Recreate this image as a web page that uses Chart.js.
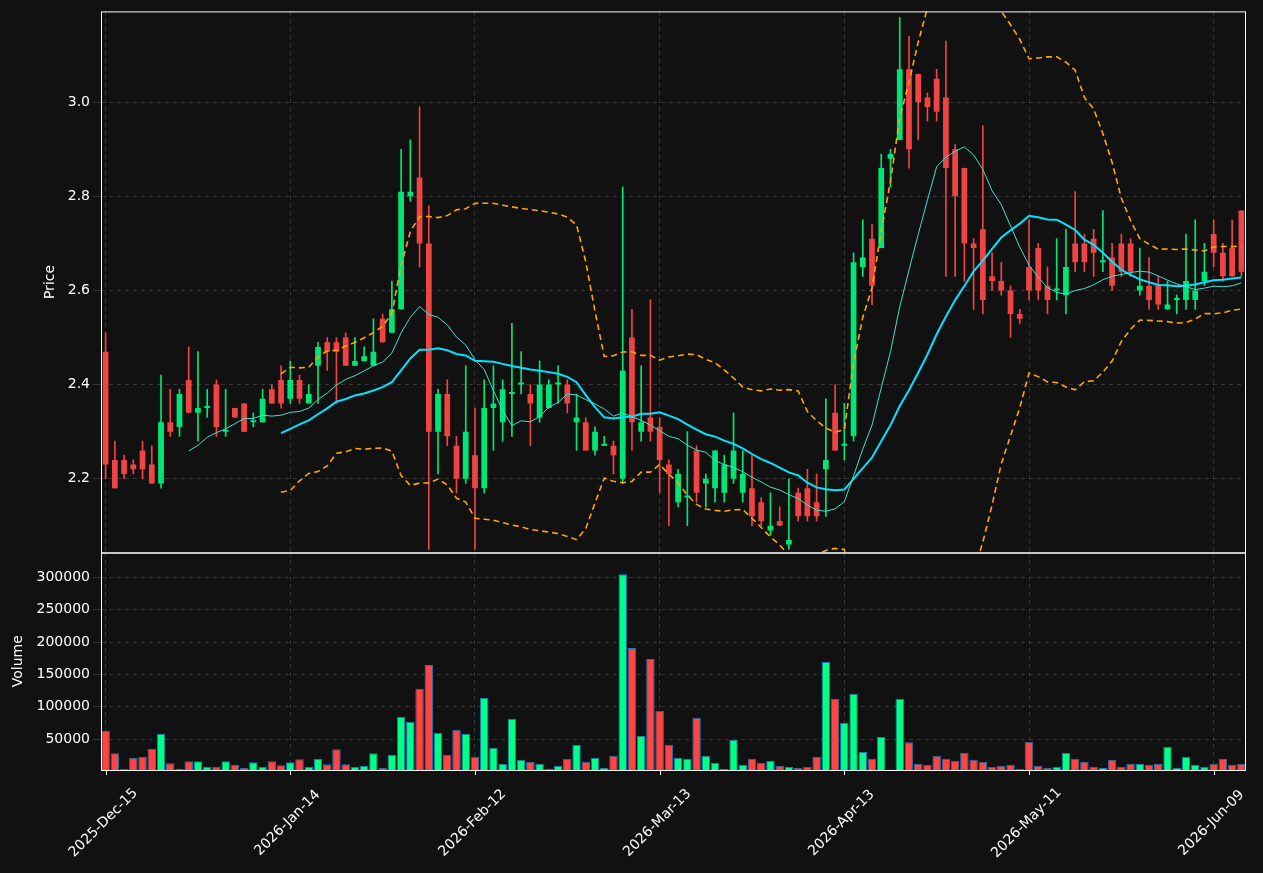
<!DOCTYPE html>
<html><head><meta charset="utf-8">
<script src="https://cdn.jsdelivr.net/npm/chart.js@4/dist/chart.umd.min.js"></script>
<style>
html,body{margin:0;padding:0;background:#111111;width:1263px;height:873px;overflow:hidden}
#p{position:absolute;left:0;top:0}
#v{position:absolute;left:0;top:541px}
</style></head><body>
<canvas id="p" width="1263" height="564"></canvas>
<canvas id="v" width="1263" height="332"></canvas>
<script>
const opens  = [2.47,2.24,2.24,2.23,2.26,2.23,2.19,2.32,2.31,2.41,2.34,2.35,2.40,2.30,2.35,2.36,2.32,2.32,2.39,2.41,
2.37,2.41,2.36,2.44,2.49,2.49,2.50,2.44,2.45,2.44,2.54,2.51,2.56,2.80,2.84,2.70,2.30,2.38,2.27,2.20,
2.25,2.18,2.35,2.32,2.38,2.40,2.38,2.33,2.35,2.40,2.40,2.32,2.32,2.26,2.27,2.27,2.20,2.50,2.30,2.33,
2.31,2.23,2.15,2.16,2.26,2.19,2.18,2.17,2.20,2.17,2.18,2.15,2.09,2.11,2.06,2.17,2.18,2.15,2.22,2.34,
2.27,2.29,2.65,2.71,2.69,2.88,2.92,3.07,3.06,3.01,3.05,3.01,2.90,2.86,2.70,2.73,2.63,2.62,2.60,2.55,
2.65,2.69,2.61,2.60,2.59,2.70,2.70,2.71,2.66,2.67,2.70,2.70,2.60,2.61,2.61,2.56,2.58,2.58,2.58,2.62,
2.72,2.68,2.69,2.77];
const closes = [2.23,2.18,2.21,2.22,2.22,2.19,2.32,2.30,2.38,2.34,2.35,2.35,2.31,2.30,2.33,2.30,2.32,2.37,2.36,2.36,
2.41,2.37,2.38,2.48,2.47,2.47,2.44,2.45,2.46,2.47,2.49,2.56,2.81,2.81,2.70,2.30,2.38,2.29,2.20,2.30,
2.18,2.35,2.36,2.39,2.38,2.40,2.36,2.40,2.40,2.40,2.36,2.33,2.26,2.30,2.27,2.25,2.43,2.32,2.32,2.30,
2.24,2.21,2.21,2.16,2.17,2.20,2.26,2.23,2.26,2.21,2.12,2.11,2.10,2.10,2.07,2.12,2.12,2.12,2.24,2.26,
2.27,2.66,2.67,2.61,2.86,2.89,3.07,2.90,3.00,2.99,2.98,2.86,2.80,2.70,2.69,2.58,2.62,2.60,2.55,2.54,
2.60,2.60,2.58,2.60,2.65,2.66,2.66,2.68,2.66,2.61,2.64,2.64,2.61,2.58,2.57,2.57,2.58,2.62,2.60,2.64,
2.68,2.63,2.63,2.64];
const highs  = [2.51,2.28,2.25,2.24,2.28,2.27,2.42,2.39,2.39,2.48,2.47,2.39,2.41,2.39,2.35,2.36,2.34,2.39,2.40,2.44,
2.45,2.42,2.40,2.49,2.50,2.50,2.51,2.50,2.48,2.54,2.55,2.62,2.90,2.92,2.99,2.78,2.39,2.41,2.29,2.44,
2.35,2.41,2.44,2.41,2.53,2.47,2.40,2.45,2.41,2.44,2.41,2.38,2.33,2.31,2.29,2.28,2.82,2.56,2.44,2.58,
2.33,2.24,2.22,2.30,2.27,2.21,2.26,2.25,2.34,2.26,2.25,2.16,2.17,2.14,2.20,2.18,2.22,2.21,2.37,2.40,
2.36,2.68,2.75,2.74,2.89,2.90,3.18,3.14,3.06,3.02,3.07,3.13,2.91,2.86,2.71,2.95,2.68,2.66,2.61,2.56,
2.75,2.70,2.65,2.71,2.73,2.81,2.72,2.73,2.77,2.70,2.72,2.71,2.69,2.67,2.63,2.62,2.59,2.72,2.75,2.70,
2.75,2.70,2.75,2.77];
const lows   = [2.20,2.18,2.20,2.21,2.20,2.19,2.18,2.29,2.29,2.34,2.28,2.33,2.29,2.29,2.33,2.30,2.31,2.32,2.36,2.35,
2.36,2.36,2.38,2.36,2.43,2.36,2.44,2.44,2.45,2.44,2.49,2.51,2.56,2.79,2.65,2.05,2.21,2.27,2.17,2.19,
2.05,2.17,2.26,2.28,2.29,2.38,2.27,2.32,2.35,2.36,2.34,2.26,2.26,2.25,2.27,2.21,2.19,2.26,2.28,2.28,
2.17,2.10,2.14,2.10,2.15,2.14,2.15,2.15,2.19,2.15,2.10,2.10,2.08,2.10,2.05,2.11,2.11,2.11,2.12,2.26,
2.24,2.28,2.63,2.57,2.83,2.82,2.92,2.86,2.92,2.96,2.96,2.63,2.63,2.62,2.56,2.55,2.60,2.59,2.50,2.53,
2.58,2.58,2.55,2.58,2.55,2.64,2.64,2.63,2.64,2.60,2.63,2.63,2.59,2.56,2.56,2.56,2.55,2.56,2.56,2.61,
2.65,2.62,2.63,2.63];
const volumes = [62800,27900,4200,21200,22700,35100,58200,12500,4200,15600,15600,7300,7300,15600,10300,5700,14000,7300,15600,9600,
14000,18700,7300,19600,10900,34200,10900,7300,8800,27900,5700,25800,84400,76700,127600,164600,59700,25800,64300,58200,
22700,113700,36600,12000,81300,18100,15000,12000,4200,8800,19600,41200,15000,21200,5700,24200,305000,190900,55100,173900,
93700,41200,21200,19600,82900,24200,13500,4200,48900,10300,19600,13500,16500,8800,7300,5700,7300,22700,169300,112200,
75200,119900,30400,19600,53600,3000,112200,44900,12000,10300,24200,19600,16500,28900,18100,15000,7300,8800,10300,4200,
45800,8800,5700,7300,28900,19600,15000,7300,5700,18100,7300,12000,12000,10300,12000,38100,5700,22700,10300,7300,
12000,19600,10300,12000];
const tickIndex = [0,20,40,60,80,100,120];
const tickLabels = ['2025-Dec-15','2026-Jan-14','2026-Feb-12','2026-Mar-13','2026-Apr-13','2026-May-11','2026-Jun-09'];
const priceTicks = [2.2,2.4,2.6,2.8,3.0];
const volumeTicks = [50000,100000,150000,200000,250000,300000];

const N = closes.length;
const labels = closes.map((_,i)=>i);
function sma(n){return closes.map((_,i)=>{if(i<n-1)return null;let s=0;for(let k=i-n+1;k<=i;k++)s+=closes[k];return s/n;});}
const ma10 = sma(10), ma20 = sma(20);
const bbU=[],bbL=[];
for(let i=0;i<N;i++){ if(i<19){bbU.push(null);bbL.push(null);continue;}
  let m=ma20[i],v=0;for(let k=i-19;k<=i;k++)v+=(closes[k]-m)**2; const sd=Math.sqrt(v/20);
  bbU.push(m+2*sd);bbL.push(m-2*sd);}
const UP='#00e676', DN='#ef4444', UPV='#00ff88', DNV='#ff4444';
const cols = closes.map((c,i)=>c>=opens[i]?UP:DN);
const vcols = closes.map((c,i)=>c>=opens[i]?UPV:DNV);

Chart.defaults.font.family = 'DejaVu Sans';
Chart.defaults.color = '#ffffff';
const gridC = 'rgba(255,255,255,0.16)';
const frame = {id:'frame',afterDraw(c){const a=c.chartArea,x=c.ctx;x.save();x.strokeStyle='#ffffff';x.lineWidth=1;x.strokeRect(a.left+0.5,a.top+0.5,a.right-a.left-1,a.bottom-a.top);x.restore();}};
const xTickCb = (v)=> tickIndex.includes(v) ? '' : null;

new Chart(document.getElementById('p'),{
  data:{labels,datasets:[
    {type:'line',data:ma10,borderColor:'#40e0d0',borderWidth:1,pointRadius:0,order:0},
    {type:'line',data:ma20,borderColor:'#00e5ff',borderWidth:2,pointRadius:0,order:0},
    {type:'line',data:bbU,borderColor:'#ffa500',borderWidth:1.6,borderDash:[6,4],pointRadius:0,order:0},
    {type:'line',data:bbL,borderColor:'#ffa500',borderWidth:1.6,borderDash:[6,4],pointRadius:0,order:0},
    {type:'bar',data:lows.map((l,i)=>[l,highs[i]]),backgroundColor:cols,barThickness:1,grouped:false,order:2},
    {type:'bar',data:opens.map((o,i)=>[o,closes[i]]),backgroundColor:cols,barPercentage:0.62,categoryPercentage:1,grouped:false,minBarLength:2,order:1}
  ]},
  options:{responsive:false,animation:false,events:[],
    layout:{padding:{top:10,right:17,left:40,bottom:0}},
    plugins:{legend:{display:false},tooltip:{enabled:false}},
    scales:{
      x:{offset:true,grid:{offset:false,color:gridC,drawTicks:false},border:{display:false,dash:[4,4]},
         ticks:{autoSkip:false,maxRotation:0,callback:xTickCb,font:{size:1}},
         afterFit(s){s.height=0;}},
      y:{min:2.043,max:3.193,border:{display:false,dash:[4,4]},grid:{color:gridC},
         afterBuildTicks(s){s.ticks=priceTicks.map(v=>({value:v}));},
         ticks:{font:{size:14},callback:v=>v.toFixed(1)},
         title:{display:true,text:'Price',font:{size:14},padding:2},
         afterFit(s){s.width=61;}}
    }},
  plugins:[frame]
});

new Chart(document.getElementById('v'),{
  type:'bar',
  data:{labels,datasets:[{data:volumes,backgroundColor:vcols,borderColor:'#1f77b4',borderWidth:1,barPercentage:0.92,categoryPercentage:1,borderSkipped:false}]},
  options:{responsive:false,animation:false,events:[],
    layout:{padding:{top:0,right:17,left:8,bottom:0}},
    plugins:{legend:{display:false},tooltip:{enabled:false}},
    scales:{
      x:{offset:true,grid:{offset:false,color:gridC,drawTicks:false},border:{display:false,dash:[4,4]},
         ticks:{autoSkip:false,maxRotation:0,callback:xTickCb,font:{size:1}},
         afterFit(s){s.height=103;}},
      y:{min:2170,max:338600,border:{display:false,dash:[4,4]},grid:{color:gridC},
         afterBuildTicks(s){s.ticks=volumeTicks.map(v=>({value:v}));},
         ticks:{font:{size:14},callback:v=>String(v)},
         title:{display:true,text:'Volume',font:{size:14},padding:2},
         afterFit(s){s.width=93;}}
    }},
  plugins:[frame,{id:'tm',afterDraw(c){const x=c.ctx,s=c.scales.x,a=c.chartArea;x.save();x.strokeStyle='#fff';x.fillStyle='#fff';x.lineWidth=1;
    x.font='14px "DejaVu Sans"';x.textAlign='center';x.textBaseline='middle';
    tickIndex.forEach((i,k)=>{const px=Math.round(s.getPixelForValue(i))+0.5;x.beginPath();x.moveTo(px,a.bottom);x.lineTo(px,a.bottom+5);x.stroke();
      x.save();x.translate(px-3,a.bottom+53);x.rotate(-Math.PI/4);x.fillText(tickLabels[k],0,0);x.restore();});x.restore();}}]
});
</script></body></html>
